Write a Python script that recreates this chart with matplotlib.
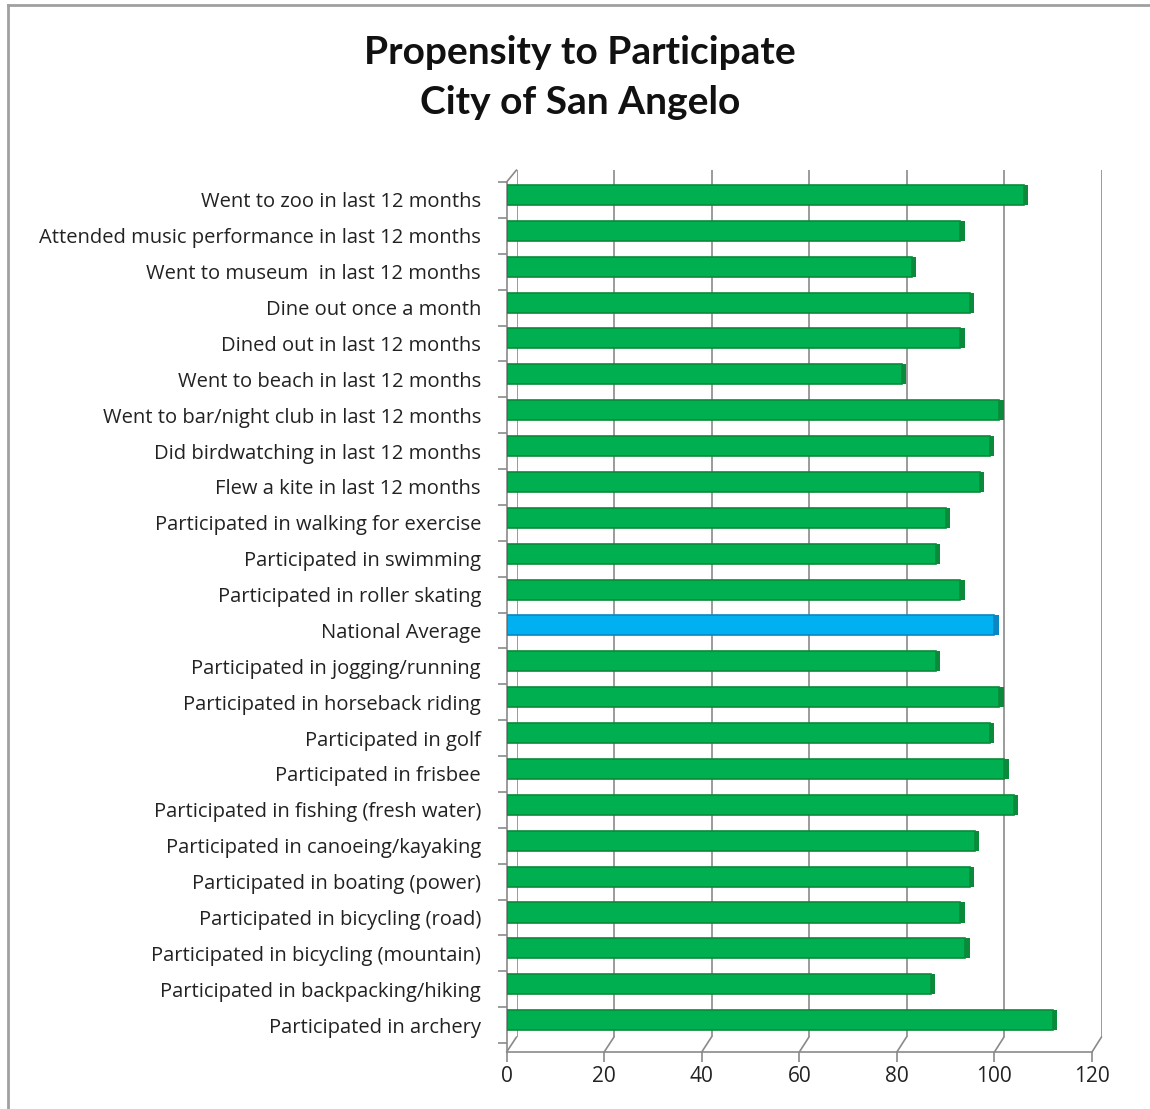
import numpy as np
import matplotlib
matplotlib.use("Agg")
import matplotlib.pyplot as plt
from matplotlib.patches import ConnectionPatch
from matplotlib.lines import Line2D
from matplotlib.transforms import ScaledTranslation


# Categories listed top to bottom, with their propensity index.
categories = [
    "Went to zoo in last 12 months",
    "Attended music performance in last 12 months",
    "Went to museum  in last 12 months",
    "Dine out once a month",
    "Dined out in last 12 months",
    "Went to beach in last 12 months",
    "Went to bar/night club in last 12 months",
    "Did birdwatching in last 12 months",
    "Flew a kite in last 12 months",
    "Participated in walking for exercise",
    "Participated in swimming",
    "Participated in roller skating",
    "National Average",
    "Participated in jogging/running",
    "Participated in horseback riding",
    "Participated in golf",
    "Participated in frisbee",
    "Participated in fishing (fresh water)",
    "Participated in canoeing/kayaking",
    "Participated in boating (power)",
    "Participated in bicycling (road)",
    "Participated in bicycling (mountain)",
    "Participated in backpacking/hiking",
    "Participated in archery",
]
values = [106, 93, 83, 95, 93, 81, 101, 99, 97, 90, 88, 93,
          100, 88, 101, 99, 102, 104, 96, 95, 93, 94, 87, 112]
x_ticks = [0, 20, 40, 60, 80, 100, 120]
highlight = "National Average"

W, H = 1150, 1109
GREEN, GREEN_DARK = "#00b050", "#0a8a3a"
BLUE, BLUE_DARK = "#00b0f0", "#0a86c0"
GRID = "#8a8a8a"


def fx(px):
    return px / W


def fy(py):
    return 1 - py / H


fig = plt.figure(figsize=(W / 100, H / 100), dpi=100)
fig.patch.set_facecolor("white")

# back wall of the 3d chart, carries the gridlines
ax_back = fig.add_axes([fx(516.5), fy(1037), fx(1101.5) - fx(516.5), fy(170) - fy(1037)])
ax_back.set_xlim(0, 120)
ax_back.set_ylim(0, 1)
ax_back.axis("off")
for v in x_ticks:
    ax_back.axvline(v, color=GRID, lw=1.2)

# front plane: bars, category labels and value axis
ax = fig.add_axes([fx(506.6), fy(1052), fx(1092) - fx(506.6), fy(182) - fy(1052)])
ax.patch.set_alpha(0)
n = len(categories)
ypos = np.arange(n)[::-1]
ax.set_xlim(0, 120)
ax.set_ylim(-0.75, n - 0.5)

colors = [BLUE if c == highlight else GREEN for c in categories]
edges = [BLUE_DARK if c == highlight else GREEN_DARK for c in categories]
lift = ax.transData + ScaledTranslation(0, 0.05, fig.dpi_scale_trans)
bars = ax.barh(ypos, values, height=0.56, color=colors, edgecolor=edges, lw=1.2, zorder=3)
caps = ax.barh(ypos, 0.9, left=values, height=0.56, color=edges, lw=0, zorder=3)
for p in list(bars) + list(caps):
    p.set_transform(lift)

for side in ["top", "right"]:
    ax.spines[side].set_visible(False)
for side in ["left", "bottom"]:
    ax.spines[side].set_color(GRID)
    ax.spines[side].set_linewidth(1.2)

ax.set_xticks(x_ticks)
ax.set_xticklabels([str(v) for v in x_ticks])
ax.tick_params(axis="x", direction="out", length=7, width=1.2, color=GRID,
               pad=3, labelsize=15, labelcolor="#222222")
ax.set_yticks(ypos)
ax.set_yticklabels(categories)
ax.tick_params(axis="y", which="major", length=0, pad=18.5,
               labelsize=14.5, labelcolor="#222222")
ax.set_yticks(np.arange(-0.5, n, 1), minor=True)
ax.tick_params(axis="y", which="minor", direction="out", length=6.5, width=1.2, color=GRID)
for lab in ax.get_xticklabels() + ax.get_yticklabels():
    lab.set_fontfamily("Open Sans")

# floor and wall edges joining the front plane to the back wall
for v in x_ticks:
    con = ConnectionPatch(xyA=(v, 0), coordsA=ax.get_xaxis_transform(),
                          xyB=(v, 0), coordsB=ax_back.get_xaxis_transform(),
                          color=GRID, lw=1.2)
    fig.add_artist(con)
con = ConnectionPatch(xyA=(0, 1), coordsA=ax.transAxes,
                      xyB=(0, 1), coordsB=ax_back.transAxes, color=GRID, lw=1.2)
fig.add_artist(con)

fig.text(fx(580), fy(52), "Propensity to Participate", ha="center", va="center",
         fontsize=28, fontweight="bold", fontfamily="Lato", color="#111111")
fig.text(fx(580), fy(102), "City of San Angelo", ha="center", va="center",
         fontsize=28, fontweight="bold", fontfamily="Lato", color="#111111")

# chart area border
fig.add_artist(Line2D([fx(8), 1], [fy(5), fy(5)], color="#a0a0a0", lw=2))
fig.add_artist(Line2D([fx(8), fx(8)], [fy(5), 0], color="#a0a0a0", lw=2))

fig.savefig("out.png", dpi=100)
